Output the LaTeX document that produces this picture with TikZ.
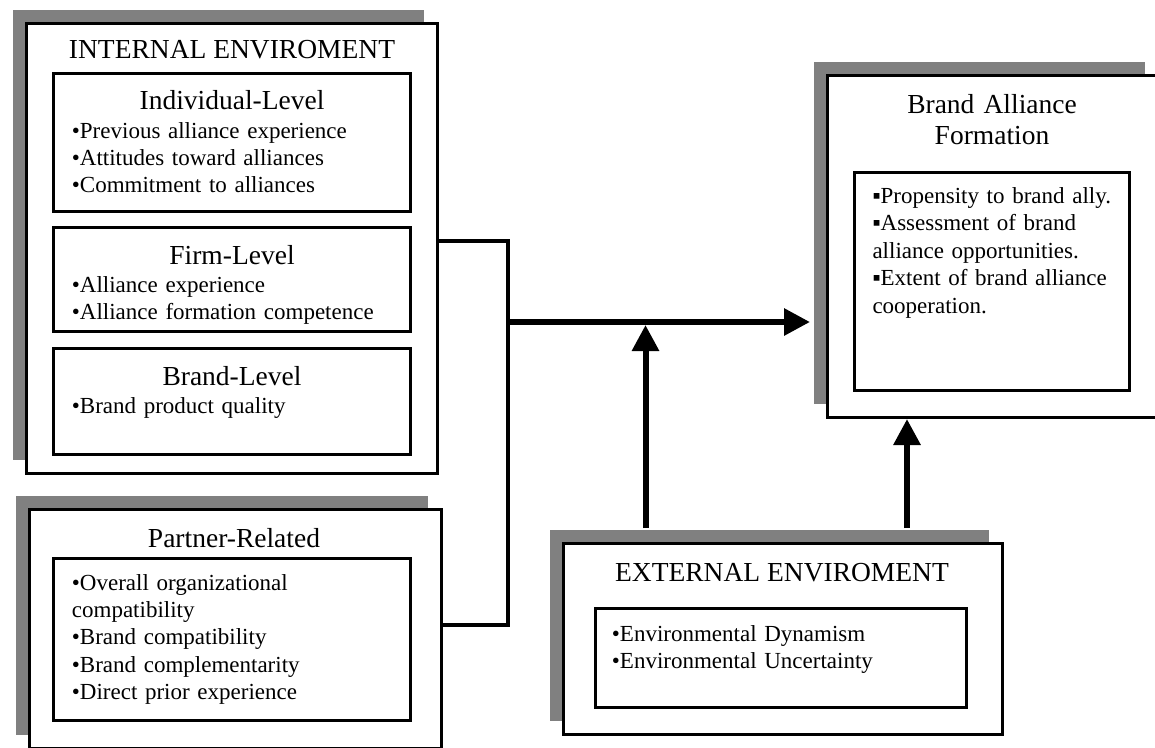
\documentclass[tikz,border=0pt]{standalone}
\usepackage{fontspec}
\setmainfont{Liberation Serif}
\usetikzlibrary{arrows.meta,positioning,shadows}

\begin{document}
\begin{tikzpicture}[x=1pt, y=-1pt,
  outerbox/.style={draw, line width=3pt, fill=white, inner sep=0pt,
    drop shadow={shadow xshift=-14pt, shadow yshift=14pt, fill=gray, opacity=1}},
  innerbox/.style={draw, line width=3pt, inner sep=0pt},
  head/.style={anchor=base, inner sep=0pt, font=\fontsize{27.5pt}{31pt}\selectfont},
  items/.style={anchor=base west, inner sep=0pt, text width=335pt, align=left,
    font=\fontsize{23pt}{27.4pt}\selectfont},
  bracket/.style={line width=4.5pt},
  arrow/.style={-{Triangle[length=26pt, width=26pt]}, line width=6pt}
]
  \useasboundingbox (0,0) rectangle (1155,747);

  % internal environment
  \node[outerbox, minimum width=411pt, minimum height=450pt] (int) at (232,248.5) {};
  \node[head] (inthead) at (232,58) {INTERNAL ENVIROMENT};
  \node[innerbox, minimum width=357pt, minimum height=138pt] (indiv) at (232,142.5) {};
  \node[head] (indivhead) at (232,109) {Individual-Level};
  \node[items] (indivlist) at (71.7,138) {•Previous alliance experience\\•Attitudes toward alliances\\•Commitment to alliances};
  \node[innerbox, minimum width=357pt, minimum height=104pt] (firm) at (232,279.5) {};
  \node[head] (firmhead) at (232,264) {Firm-Level};
  \node[items] (firmlist) at (71.7,292) {•Alliance experience\\•Alliance formation competence};
  \node[innerbox, minimum width=357pt, minimum height=106pt] (brandlvl) at (232,401.5) {};
  \node[head] (brandhead) at (232,385) {Brand-Level};
  \node[items] (brandlist) at (71.7,413.5) {•Brand product quality};

  % partner-related
  \node[outerbox, minimum width=412pt, minimum height=239pt] (partner) at (235.5,629) {};
  \node[head] (partnerhead) at (234,547) {Partner-Related};
  \node[innerbox, minimum width=357pt, minimum height=162pt] (partnerbox) at (232,639.5) {};
  \node[items] (partnerlist) at (71.7,590) {•Overall organizational\\compatibility\\•Brand compatibility\\•Brand complementarity\\•Direct prior experience};

  % brand alliance formation
  \node[outerbox, minimum width=331pt, minimum height=342pt] (baf) at (993,246.5) {};
  \node[head, text width=300pt, align=center] (bafhead) at (992,113) {Brand Alliance\\Formation};
  \node[innerbox, minimum width=275pt, minimum height=218pt] (bafbox) at (992,281.5) {};
  \node[items, text width=265pt] (baflist) at (872.3,203.5) {▪Propensity to brand ally.\\▪Assessment of brand\\alliance opportunities.\\▪Extent of brand alliance\\cooperation.};

  % external environment
  \node[outerbox, minimum width=439pt, minimum height=191pt] (ext) at (783,639) {};
  \node[head] (exthead) at (782,581) {EXTERNAL ENVIROMENT};
  \node[innerbox, minimum width=371pt, minimum height=99pt] (extbox) at (781,658) {};
  \node[items] (extlist) at (611.7,641) {•Environmental Dynamism\\•Environmental Uncertainty};

  % connectors
  \coordinate (btop) at (508,241);
  \coordinate (bbot) at (508,625);
  \coordinate (junc) at (508,322);
  \coordinate (up) at (645.5,325);
  \draw[bracket] (int.east |- btop) -- (btop) -- (bbot) -- (partner.east |- bbot);
  \draw[arrow, shorten >=16pt] (junc) -- (junc -| baf.west);
  \draw[arrow, shorten <=14pt] (ext.north -| up) -- (up);
  \draw[arrow, shorten <=14pt] ([xshift=124pt]ext.north) -- ([xshift=124pt]ext.north |- baf.south);
\end{tikzpicture}
\end{document}
